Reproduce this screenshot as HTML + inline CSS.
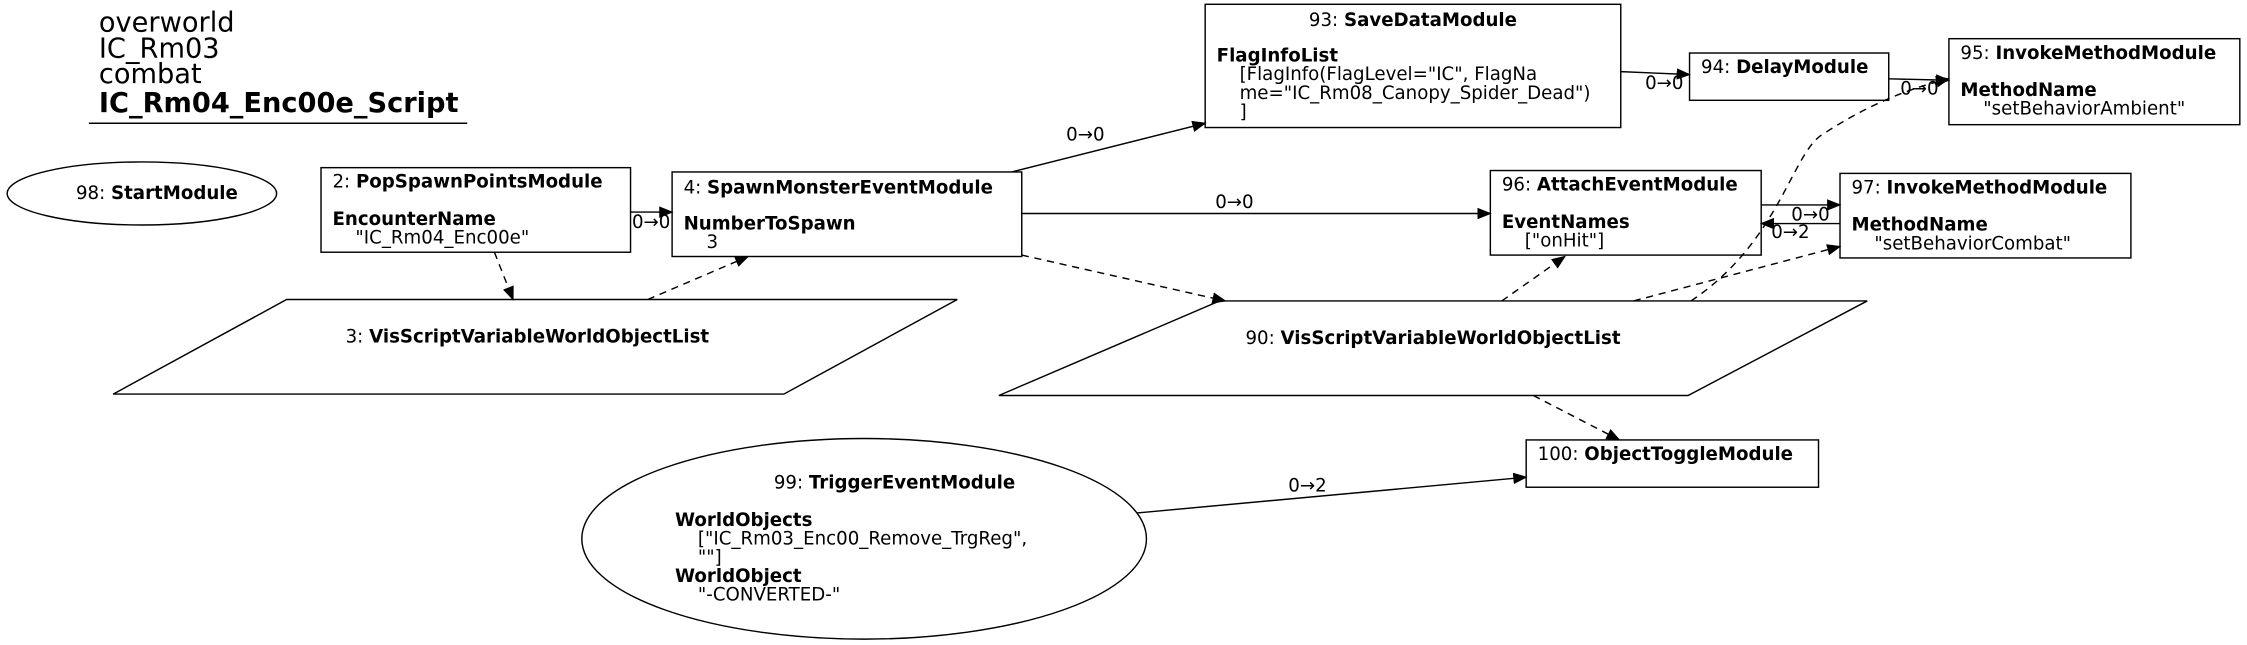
<!DOCTYPE html>
<html><head><meta charset="utf-8"><style>
html,body{margin:0;padding:0;background:#fff;}
svg{display:block;}
text{font-family:"DejaVu Sans","Liberation Sans",sans-serif;font-size:12.7px;fill:#000;}
.b{font-weight:bold;}
.t{font-size:19px;}
</style></head><body>
<svg width="2247" height="645" viewBox="0 0 1568 450.1" xmlns="http://www.w3.org/2000/svg">
<defs><marker id="a" markerWidth="10" markerHeight="8" refX="9" refY="4" orient="auto" markerUnits="userSpaceOnUse"><path d="M0,0 L10,4 L0,8 z" fill="#000"/></marker></defs>
<g fill="none" stroke="#000" stroke-width="1">
<text x="69" y="22" class="t" stroke="none">overworld</text>
<text x="69" y="40" class="t" stroke="none">IC_Rm03</text>
<text x="69" y="58" class="t" stroke="none">combat</text>
<text x="69" y="78" class="t b" stroke="none">IC_Rm04_Enc00e_Script</text>
<line x1="62" y1="86" x2="326" y2="86"/>
<ellipse cx="99" cy="135" rx="94" ry="22"/>
<rect x="224" y="117" width="216" height="59"/>
<rect x="469" y="120" width="244" height="59"/>
<polygon points="200,209 668,209 547,275 79,275"/>
<rect x="841" y="3" width="290" height="86"/>
<rect x="1179" y="37" width="139" height="33"/>
<rect x="1360" y="27" width="203" height="60"/>
<rect x="1040" y="119" width="189" height="59"/>
<rect x="1284" y="121" width="203" height="59"/>
<polygon points="851,210 1303,210 1178,276 697,276"/>
<rect x="1065" y="307" width="204" height="33"/>
<ellipse cx="603" cy="376" rx="197" ry="70"/>
<line x1="440" y1="148" x2="469" y2="148" marker-end="url(#a)"/>
<line x1="706" y1="120" x2="841" y2="86" marker-end="url(#a)"/>
<line x1="713" y1="149" x2="1040" y2="149" marker-end="url(#a)"/>
<line x1="1131" y1="50" x2="1179" y2="52" marker-end="url(#a)"/>
<line x1="1318" y1="55" x2="1360" y2="56" marker-end="url(#a)"/>
<line x1="1229" y1="143" x2="1284" y2="143" marker-end="url(#a)"/>
<line x1="1284" y1="156" x2="1229" y2="156" marker-end="url(#a)"/>
<line x1="793" y1="358" x2="1065" y2="333" marker-end="url(#a)"/>
<g stroke-dasharray="5,4">
<line x1="345" y1="176" x2="358" y2="209" marker-end="url(#a)"/>
<line x1="452" y1="209" x2="522" y2="179" marker-end="url(#a)"/>
<line x1="713" y1="178" x2="855" y2="210" marker-end="url(#a)"/>
<line x1="1048" y1="210" x2="1092" y2="179" marker-end="url(#a)"/>
<line x1="1140" y1="210" x2="1284" y2="172" marker-end="url(#a)"/>
<path d="M1180,210 C1240,170 1250,110 1270,95 C1300,75 1330,62 1360,55" marker-end="url(#a)"/>
<line x1="1070" y1="276" x2="1130" y2="307" marker-end="url(#a)"/>
</g>
</g>
<text x="53" y="139">98: <tspan class="b">StartModule</tspan></text>
<text x="232" y="131">2: <tspan class="b">PopSpawnPointsModule</tspan></text>
<text x="232" y="157" class="b">EncounterName</text>
<text x="248" y="170">"IC_Rm04_Enc00e"</text>
<text x="477" y="135">4: <tspan class="b">SpawnMonsterEventModule</tspan></text>
<text x="477" y="160" class="b">NumberToSpawn</text>
<text x="493" y="173">3</text>
<text x="368" y="239" text-anchor="middle">3: <tspan class="b">VisScriptVariableWorldObjectList</tspan></text>
<text x="986" y="18" text-anchor="middle">93: <tspan class="b">SaveDataModule</tspan></text>
<text x="849" y="43" class="b">FlagInfoList</text>
<text x="865" y="56">[FlagInfo(FlagLevel="IC", FlagNa</text>
<text x="865" y="69">me="IC_Rm08_Canopy_Spider_Dead")</text>
<text x="865" y="82">]</text>
<text x="1187" y="51">94: <tspan class="b">DelayModule</tspan></text>
<text x="1368" y="41">95: <tspan class="b">InvokeMethodModule</tspan></text>
<text x="1368" y="67" class="b">MethodName</text>
<text x="1384" y="80">"setBehaviorAmbient"</text>
<text x="1048" y="133">96: <tspan class="b">AttachEventModule</tspan></text>
<text x="1048" y="159" class="b">EventNames</text>
<text x="1064" y="172">["onHit"]</text>
<text x="1292" y="135">97: <tspan class="b">InvokeMethodModule</tspan></text>
<text x="1292" y="161" class="b">MethodName</text>
<text x="1308" y="174">"setBehaviorCombat"</text>
<text x="1000" y="240" text-anchor="middle">90: <tspan class="b">VisScriptVariableWorldObjectList</tspan></text>
<text x="1073" y="321">100: <tspan class="b">ObjectToggleModule</tspan></text>
<text x="540" y="341">99: <tspan class="b">TriggerEventModule</tspan></text>
<text x="471" y="367" class="b">WorldObjects</text>
<text x="487" y="380">["IC_Rm03_Enc00_Remove_TrgReg",</text>
<text x="487" y="393">""]</text>
<text x="471" y="406" class="b">WorldObject</text>
<text x="487" y="419">"-CONVERTED-"</text>
<text x="441" y="159">0→0</text>
<text x="744" y="98">0→0</text>
<text x="848" y="145">0→0</text>
<text x="1148" y="62">0→0</text>
<text x="1326" y="66">0→0</text>
<text x="1250" y="154">0→0</text>
<text x="1236" y="166">0→2</text>
<text x="899" y="343">0→2</text>
</svg>
</body></html>
